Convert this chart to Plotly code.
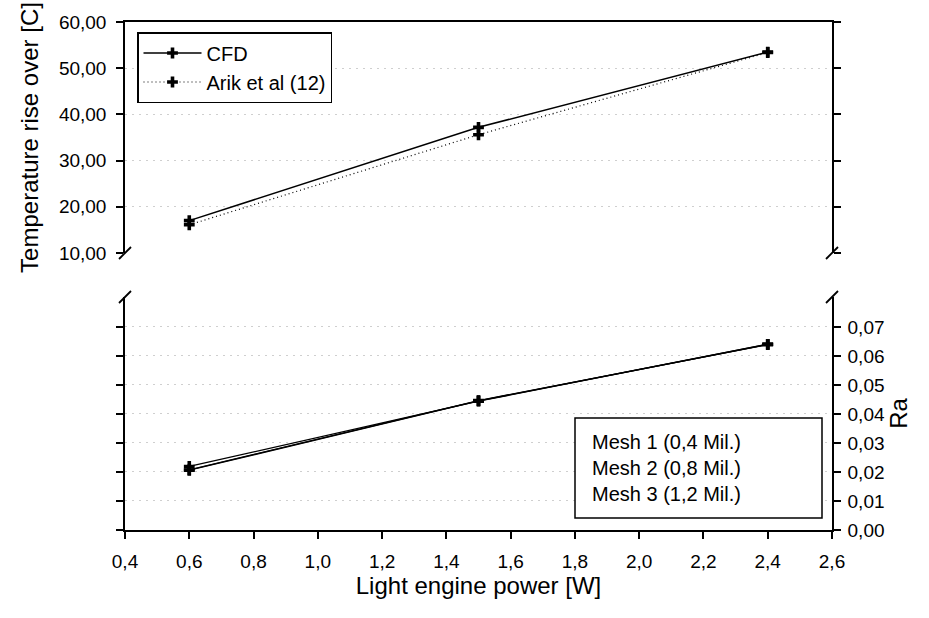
import plotly.graph_objects as go

power = [0.6, 1.5, 2.4]
cfd = [17.0, 37.2, 53.5]
arik = [16.1, 35.6, 53.4]
mesh1 = [0.0219, 0.0444, 0.0640]
mesh2 = [0.0207, 0.0446, 0.0639]
mesh3 = [0.0206, 0.0445, 0.0640]
mesh_labels = ["Mesh 1 (0,4 Mil.)", "Mesh 2 (0,8 Mil.)", "Mesh 3 (1,2 Mil.)"]
top_ticks = [10, 20, 30, 40, 50, 60]
ra_ticks = [0.0, 0.01, 0.02, 0.03, 0.04, 0.05, 0.06, 0.07]

W, H = 929, 618
ML, MR, MT, MB = 125, 97, 22, 88
pw, ph = W - ML - MR, H - MT - MB
top_lo = (H - MB - 253) / ph
bot_hi = (H - MB - 297) / ph

FONT = "Liberation Sans, Arial, sans-serif"
fig = go.Figure()

marker = dict(symbol="cross", size=9, color="black")
fig.add_trace(go.Scatter(x=power, y=cfd, name="CFD", mode="lines+markers",
                         line=dict(color="black", width=1.5), marker=marker,
                         xaxis="x2", yaxis="y"))
fig.add_trace(go.Scatter(x=power, y=arik, name="Arik et al (12)", mode="lines+markers",
                         line=dict(color="black", width=1.2, dash="1px,3px"), marker=marker,
                         xaxis="x2", yaxis="y"))
for name, vals in zip(mesh_labels, [mesh1, mesh2, mesh3]):
    fig.add_trace(go.Scatter(x=power, y=vals, name=name, mode="lines+markers",
                             line=dict(color="black", width=1.3), marker=marker,
                             xaxis="x", yaxis="y2", showlegend=False))

axis_common = dict(showline=True, linecolor="black", linewidth=1.5,
                   ticks="outside", ticklen=7, tickcolor="black", tickwidth=1.5,
                   zeroline=False, tickfont=dict(size=19, color="black"))
grid = dict(showgrid=True, gridcolor="#cfcfcf", griddash="2px,5px", gridwidth=1)

fig.update_layout(
    width=W, height=H,
    margin=dict(l=ML, r=MR, t=MT, b=MB),
    paper_bgcolor="white", plot_bgcolor="white",
    separators=",.",
    font=dict(family=FONT, color="black"),
    xaxis=dict(domain=[0, 1], anchor="y2", range=[0.4, 2.6], tick0=0.4, dtick=0.2,
               tickformat=".1f", showgrid=False, ticklabelstandoff=6,
               title=dict(text="Light engine power [W]", font=dict(size=24), standoff=0),
               **axis_common),
    xaxis2=dict(domain=[0, 1], anchor="y", range=[0.4, 2.6], side="top",
                showline=True, linecolor="black", linewidth=1.5,
                showticklabels=False, ticks="", showgrid=False, zeroline=False),
    yaxis=dict(domain=[top_lo, 1], anchor="x2", range=[10, 60], tickvals=top_ticks,
               tickformat=".2f", mirror="ticks", ticklabelstandoff=6, **grid,
               title=dict(text="Temperature rise over [C]", font=dict(size=24), standoff=14),
               **axis_common),
    yaxis2=dict(domain=[0, bot_hi], anchor="x", side="right", range=[0, 0.0803],
                tickvals=ra_ticks, tickformat=".2f", mirror="ticks", ticklabelstandoff=3,
                **grid,
                title=dict(text="Ra", font=dict(size=24), standoff=2),
                **axis_common),
    legend=dict(x=12 / pw, y=(H - MB - 32) / ph, xanchor="left", yanchor="top",
                bordercolor="black", borderwidth=1.5, bgcolor="white",
                font=dict(size=20, color="black"), itemwidth=58,
                tracegroupgap=0),
    showlegend=True,
)

# axis break marks
dx, dy = 6 / pw, 6 / ph
shapes = []
for xp in (0, 1):
    for yp in (top_lo, bot_hi):
        shapes.append(dict(type="line", xref="paper", yref="paper",
                           x0=xp - dx, y0=yp - dy, x1=xp + dx, y1=yp + dy,
                           line=dict(color="black", width=1.8)))
# mesh legend box (text only)
shapes.append(dict(type="rect", xref="paper", yref="paper",
                   x0=(575 - ML) / pw, x1=(822 - ML) / pw,
                   y0=(H - MB - 518) / ph, y1=(H - MB - 418) / ph,
                   line=dict(color="black", width=1.5), fillcolor="white", layer="above"))
fig.update_layout(shapes=shapes)

fig.add_annotation(xref="paper", yref="paper", x=(590 - ML) / pw, y=(H - MB - 468) / ph,
                   xanchor="left", yanchor="middle", align="left",
                   text="<br>".join(mesh_labels), showarrow=False,
                   font=dict(size=20, color="black"))

fig.write_html("out.html")
